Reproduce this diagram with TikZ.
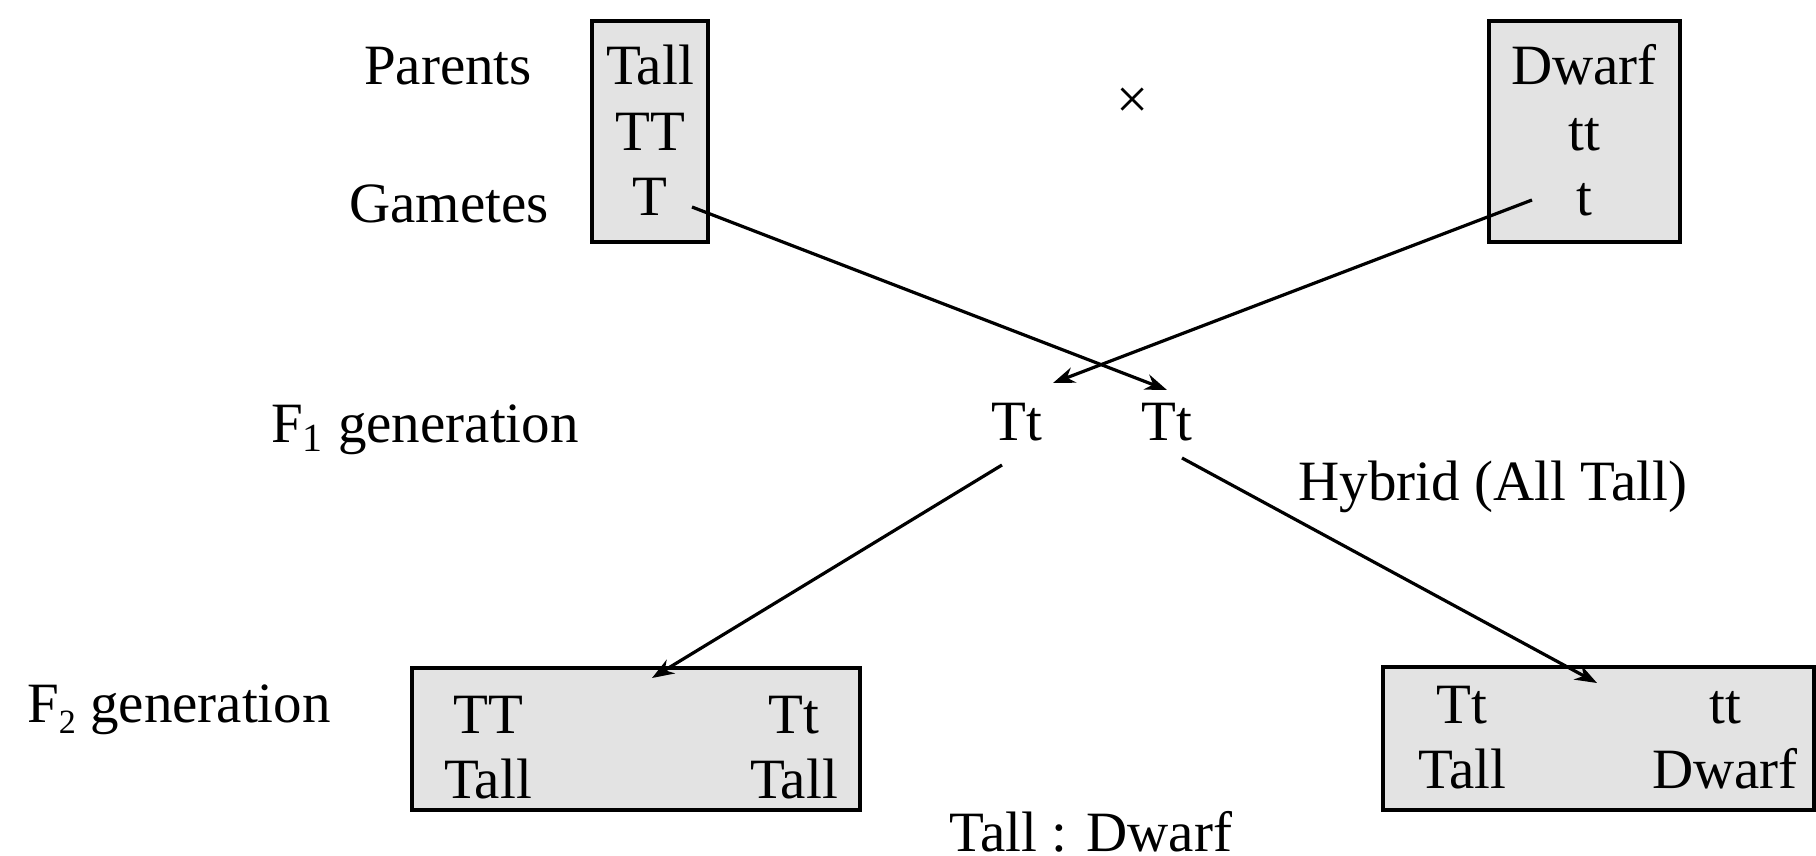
\documentclass[tikz,border=0pt]{standalone}
\usepackage{fontspec}
\setmainfont{Liberation Serif}
\usetikzlibrary{arrows.meta}
\definecolor{boxgray}{HTML}{E3E3E3}
\begin{document}
\begin{tikzpicture}[x=0.5pt,y=-0.5pt,
  lab/.style={anchor=base, inner sep=0pt, font=\fontsize{28.5}{34}\selectfont},
  gbox/.style={draw=black, line width=2pt, fill=boxgray, inner sep=0pt, outer sep=0pt},
  arr/.style={line width=1.6pt, -{Stealth[length=11pt,width=8pt]}}]
\useasboundingbox (0,0) rectangle (1816,856);
\clip (0,0) rectangle (1816,856);
% boxes
\node[gbox, minimum width=58pt, minimum height=110.5pt] (pbox) at (650,131.5) {};
\node[gbox, minimum width=95.5pt, minimum height=110.5pt] (dbox) at (1584.5,131.5) {};
\node[gbox, minimum width=224pt, minimum height=71pt] (lbox) at (636,739) {};
\node[gbox, minimum width=215.5pt, minimum height=71.5pt] (rbox) at (1598.5,738.5) {};
% left labels
\node[lab] (parents) at (448,85) {Parents};
\node[lab] (gametes) at (449,222) {Gametes};
\node[lab] (f1lab) at (425,442) {F\textsubscript{1} generation};
\node[lab] (f2lab) at (179,722) {F\raisebox{-0.45ex}{\fontsize{17}{20}\selectfont 2} generation};
% parents
\node[lab] (ptall) at (650,85) {Tall};
\node[lab] (pTT) at (650,150) {TT};
\node[lab] (gT) at (650,215) {T};
\node[lab] (pdwarf) at (1584,85) {Dwarf};
\node[lab] (ptt) at (1584,150) {tt};
\node[lab] (gt) at (1584,215) {t};
\node[lab] (cross) at (1133,119) {×};
% F1
\node[lab] (f1a) at (1017,440) {Tt};
\node[lab] (f1b) at (1167,440) {Tt};
\node[lab] (hybrid) at (1493,500) {Hybrid (All Tall)};
% F2
\node[lab] (l1) at (488,733) {TT};
\node[lab] (l2) at (488,798) {Tall};
\node[lab] (l3) at (794,733) {Tt};
\node[lab] (l4) at (794,798) {Tall};
\node[lab] (r1) at (1462,723) {Tt};
\node[lab] (r2) at (1462,788) {Tall};
\node[lab] (r3) at (1725,723) {tt};
\node[lab] (r4) at (1725,788) {Dwarf};
\node[lab] (ratio) at (1091,851) {Tall : Dwarf};
% connector ends
\coordinate (sT) at (692,207);
\coordinate (eT) at (1167,390);
\coordinate (st) at (1532,200);
\coordinate (et) at (1053,383);
\coordinate (sA) at (1002,465);
\coordinate (eA) at (652,678);
\coordinate (sB) at (1182,458);
\coordinate (eB) at (1597,683);
\draw[arr] (sT) -- (eT);
\draw[arr] (st) -- (et);
\draw[arr] (sA) -- (eA);
\draw[arr] (sB) -- (eB);
\end{tikzpicture}
\end{document}
